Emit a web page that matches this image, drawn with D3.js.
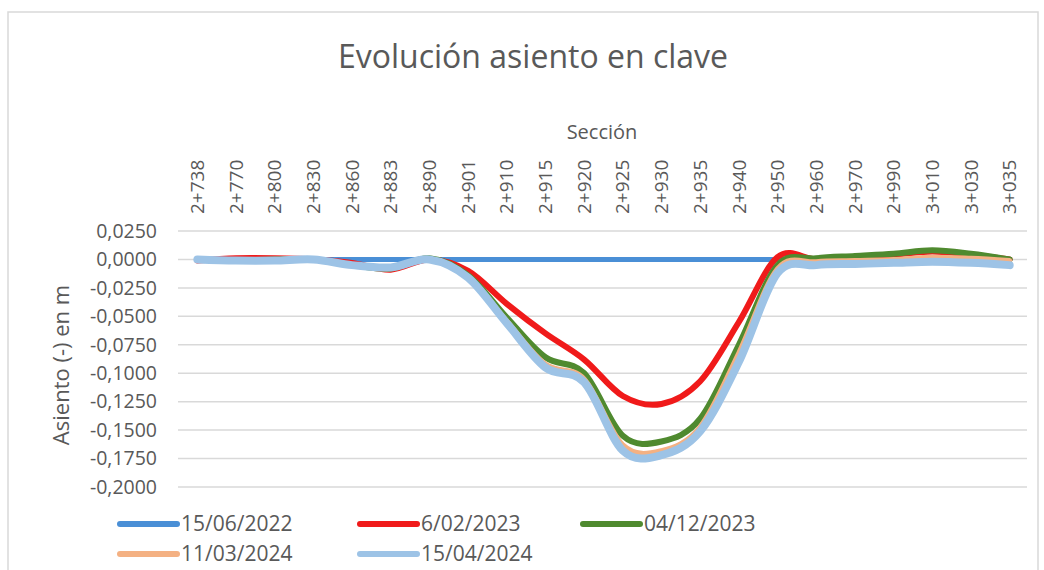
<!DOCTYPE html>
<meta charset="utf-8">
<style>
  body { margin: 0; background: #fff; }
  text { font-family: "Open Sans", "Liberation Sans", sans-serif; fill: #595959; }
</style>
<script src="https://d3js.org/d3.v7.min.js"></script>
<div id="chart"></div>
<script>
  // sections along the tunnel (category axis on top)
  var sections = ["2+738","2+770","2+800","2+830","2+860","2+883","2+890","2+901","2+910","2+915","2+920",
                  "2+925","2+930","2+935","2+940","2+950","2+960","2+970","2+990","3+010","3+030","3+035"]

  // settlement in m, one array per survey date
  var s150622 = [0,0,0,0,0,0,0,0,0,0,0,0,0,0,0,0,0,0,0,0,0,0]
  var s060223 = [-0.001,0.001,0.001,0.000,-0.003,-0.009,0.000,-0.010,-0.039,-0.065,-0.088,
                 -0.120,-0.127,-0.107,-0.055,0.002,0.000,0.002,0.004,0.007,0.004,0.000]
  var s041223 = [0.000,-0.001,0.000,0.000,-0.005,-0.008,0.001,-0.014,-0.051,-0.086,-0.100,
                 -0.155,-0.160,-0.140,-0.075,-0.005,0.001,0.003,0.005,0.008,0.005,0.000]
  var s110324 = [0.000,-0.001,0.000,0.000,-0.005,-0.008,0.000,-0.015,-0.054,-0.092,-0.105,
                 -0.163,-0.168,-0.147,-0.082,-0.008,-0.002,-0.001,0.000,0.002,0.001,-0.001]
  var s150424 = [0.000,-0.001,-0.001,0.000,-0.005,-0.007,0.000,-0.016,-0.056,-0.095,-0.108,
                 -0.168,-0.172,-0.151,-0.090,-0.012,-0.005,-0.004,-0.003,-0.002,-0.003,-0.005]

  var seriesNames = ["15/06/2022","6/02/2023","04/12/2023","11/03/2024","15/04/2024"]
  var seriesValues = [s150622, s060223, s041223, s110324, s150424]
  var yTicks = [0.025,0,-0.025,-0.05,-0.075,-0.1,-0.125,-0.15,-0.175,-0.2]

  var colors = ["#4a8fd6","#f01a1a","#4f8a2f","#f4b183","#9dc3e6"]
  var widths = [5, 6, 6, 5, 8]

  var width = 1044, height = 570

  var svg = d3.select("#chart").append("svg")
    .attr("width", width).attr("height", height)

  // chart frame
  svg.append("rect")
    .attr("x", 8).attr("y", 12).attr("width", 1030).attr("height", 600)
    .attr("fill", "#fff").attr("stroke", "#d9d9d9").attr("stroke-width", 1.5)

  var x = d3.scaleBand().domain(sections).range([178, 1029])
  var y = d3.scaleLinear().domain([-0.2, 0.025]).range([487, 231])

  // gridlines
  svg.append("g").selectAll("line")
    .data(yTicks).enter().append("line")
      .attr("x1", 178).attr("x2", 1027)
      .attr("y1", function(d) { return y(d) }).attr("y2", function(d) { return y(d) })
      .attr("stroke", "#d9d9d9").attr("stroke-width", 1.5)

  // y axis labels
  var fmt = function(d) { return d3.format(".4f")(d).replace(".", ",").replace("−", "-") }
  svg.append("g").selectAll("text")
    .data(yTicks).enter().append("text")
      .attr("x", 157).attr("y", function(d) { return y(d) })
      .attr("dy", "0.35em")
      .attr("text-anchor", "end")
      .style("font-size", "19.5px")
      .text(fmt)

  // category labels on top, rotated
  svg.append("g").selectAll("text")
    .data(sections).enter().append("text")
      .attr("transform", function(d) { return "translate(" + (x(d) + x.bandwidth() / 2) + ",214) rotate(-90)" })
      .attr("dy", "0.35em")
      .style("font-size", "19px")
      .text(function(d) { return d })

  svg.append("text")
    .attr("x", 602).attr("y", 139)
    .attr("text-anchor", "middle")
    .style("font-size", "20px")
    .text("Sección")

  svg.append("text")
    .attr("transform", "translate(69,365) rotate(-90)")
    .attr("text-anchor", "middle")
    .style("font-size", "22px")
    .text("Asiento (-) en m")

  svg.append("text")
    .attr("x", 533).attr("y", 68)
    .attr("text-anchor", "middle")
    .style("font-size", "32px")
    .text("Evolución asiento en clave")

  // smoothed lines (Excel style smoothing)
  var line = d3.line()
    .x(function(d, i) { return x(sections[i]) + x.bandwidth() / 2 })
    .y(function(d) { return y(d) })
    .curve(d3.curveCatmullRom.alpha(0))

  svg.append("g").selectAll("path")
    .data(seriesValues).enter().append("path")
      .attr("d", line)
      .attr("fill", "none")
      .attr("stroke", function(d, i) { return colors[i] })
      .attr("stroke-width", function(d, i) { return widths[i] })
      .attr("stroke-linecap", "round")
      .attr("stroke-linejoin", "round")

  // legend
  var legX = [117, 357, 580], legY = [524, 554]
  var leg = svg.append("g").selectAll("g")
    .data(seriesNames).enter().append("g")
      .attr("transform", function(d, i) { return "translate(" + legX[i % 3] + "," + legY[Math.floor(i / 3)] + ")" })
  leg.append("line")
    .attr("x1", 3).attr("x2", 60)
    .attr("stroke", function(d, i) { return colors[i] })
    .attr("stroke-width", 6)
    .attr("stroke-linecap", "round")
  leg.append("text")
    .attr("x", 64).attr("dy", "0.35em")
    .style("font-size", "21px")
    .text(function(d) { return d })
</script>
